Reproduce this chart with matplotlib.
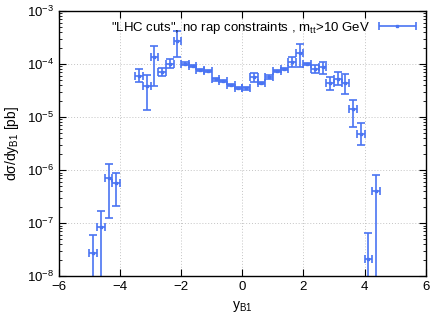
import numpy as np
import matplotlib
matplotlib.use("Agg")
import matplotlib.pyplot as plt
from matplotlib.container import ErrorbarContainer
from matplotlib.legend_handler import HandlerErrorbar

plt.rcParams['font.family'] = ['Liberation Sans', 'DejaVu Sans']
plt.rcParams['mathtext.fontset'] = 'custom'
plt.rcParams['mathtext.rm'] = 'Liberation Sans'
plt.rcParams['mathtext.it'] = 'Liberation Sans'

# bin centres (width 0.25) and values
y_bins = [-4.875, -4.625, -4.375, -4.125,
          -3.375, -3.125, -2.875, -2.625, -2.375, -2.125,
          -1.875, -1.625, -1.375, -1.125, -0.875, -0.625, -0.375, -0.125,
          0.125, 0.375, 0.625, 0.875, 1.125, 1.375, 1.625, 1.875,
          2.125, 2.375, 2.625, 2.875, 3.125, 3.375, 3.625, 3.875,
          4.125, 4.375]
xsec = [2.7e-8, 8.6e-8, 7.2e-7, 5.6e-7,
        6.0e-5, 3.8e-5, 1.33e-4, 7.1e-5, 9.8e-5, 2.72e-4,
        1.01e-4, 9.1e-5, 7.65e-5, 7.3e-5, 5.1e-5, 4.75e-5, 4.0e-5, 3.55e-5,
        3.46e-5, 5.7e-5, 4.4e-5, 5.7e-5, 7.3e-5, 8.05e-5, 1.10e-4, 1.62e-4,
        9.9e-5, 7.9e-5, 8.6e-5, 4.4e-5, 5.1e-5, 4.4e-5, 1.39e-5, 4.8e-6,
        2.1e-8, 4.1e-7]
err_up = [3.3e-8, 8.6e-8, 5.8e-7, 3.3e-7,
          1.9e-5, 2.35e-5, 8.6e-5, 1.35e-5, 2.4e-5, 1.43e-4,
          6e-6, 5e-6, 4e-6, 4e-6, 3e-6, 2.5e-6, 2e-6, 2e-6,
          2e-6, 1.1e-5, 2.5e-6, 4e-6, 4e-6, 5e-6, 2.6e-5, 7.4e-5,
          5e-6, 1.6e-5, 2.4e-5, 1.3e-5, 2.0e-5, 1.95e-5, 6.9e-6, 2.8e-6,
          4.4e-8, 4.0e-7]
err_dn = [2.7e-8, 8.6e-8, 5.95e-7, 3.5e-7,
          1.45e-5, 2.45e-5, 9.5e-5, 1.2e-5, 1.55e-5, 1.39e-4,
          6e-6, 5e-6, 4e-6, 4e-6, 3e-6, 2.5e-6, 2e-6, 2e-6,
          2e-6, 1.2e-5, 2.5e-6, 4e-6, 4e-6, 5e-6, 2.2e-5, 7.6e-5,
          5e-6, 1.1e-5, 2.2e-5, 1.2e-5, 1.1e-5, 1.7e-5, 7.3e-6, 1.8e-6,
          2.1e-8, 4.1e-7]
half_bin = 0.125

blue = '#4a74f2'
style = dict(fmt='s', ms=2, color=blue, ecolor=blue, elinewidth=1.2,
             capsize=2.6, capthick=1.2, lw=1.2)

fig = plt.figure(figsize=(4.3, 3.27), dpi=100)
ax = fig.add_axes([0.137, 0.155, 0.853, 0.812])

# keep lower error bars just above zero so log axis clips them at the bottom
yv = np.array(xsec)
lo = np.minimum(np.array(err_dn), yv * 0.9999)
ax.errorbar(y_bins, xsec, xerr=half_bin, yerr=[lo, err_up], **style)

# legend proxy: horizontal bar only, like gnuplot's key sample
ax.errorbar([np.nan], [np.nan], xerr=[1.0], **style,
            label='"LHC cuts", no rap constraints , m$_{tt}$>10 GeV')

ax.set_yscale('log')
ax.set_xlim(-6, 6)
ax.set_ylim(1e-8, 1e-3)
ax.set_xticks([-6, -4, -2, 0, 2, 4, 6])
ax.grid(True, which='major', color='#c4c4c4', linestyle=(0, (1, 2)), lw=0.7)
ax.tick_params(which='both', direction='in', top=True, right=True, labelsize=9.5)
ax.tick_params(which='major', length=5)
ax.tick_params(which='minor', length=2.5)
for s in ax.spines.values():
    s.set_linewidth(1.0)

ax.set_xlabel('y$_{B1}$', fontsize=10)
ax.set_ylabel('d\u03c3/dy$_{B1}$ [pb]', fontsize=10)

ax.legend(loc='upper right', frameon=False, markerfirst=False, fontsize=9.5,
          handlelength=2.9, borderaxespad=0.3, handletextpad=0.6,
          handler_map={ErrorbarContainer: HandlerErrorbar(xerr_size=1.4)})

fig.savefig('out.png', dpi=100)
